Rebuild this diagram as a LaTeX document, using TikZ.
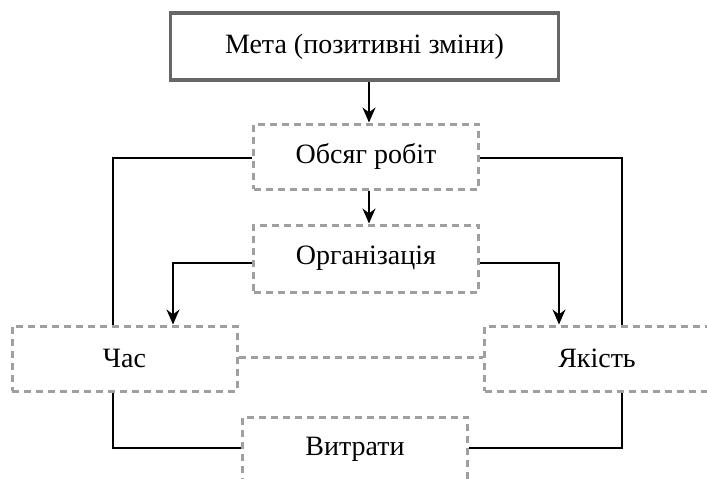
\documentclass[tikz,border=0pt]{standalone}
\usepackage{fontspec}
\setmainfont{Liberation Serif}
\usetikzlibrary{arrows.meta}
\begin{document}
\begin{tikzpicture}[x=1pt,y=-1pt,
  goalbox/.style={draw=gray!80!black, line width=3.5pt, minimum width=388pt, minimum height=67pt,
    inner sep=0pt, font=\fontsize{28}{32}\selectfont},
  factorbox/.style={draw=gray!75, line width=3pt, dash pattern=on 7pt off 5pt,
    minimum width=225pt, minimum height=65pt, inner sep=0pt, font=\fontsize{28}{32}\selectfont},
  link/.style={draw=black, line width=2pt},
  flow/.style={link, -{Stealth[length=15pt,width=13pt]}},
  tie/.style={draw=gray!75, line width=3pt, dash pattern=on 7pt off 5pt}]
\useasboundingbox (0,0) rectangle (707,479);

% boxes
\node[goalbox]   (goal)  at (364.5,46.5) {Мета (позитивні зміни)};
\node[factorbox] (scope) at (366,156.5)   {Обсяг робіт};
\node[factorbox, minimum height=67pt] (org) at (366,258.5) {Організація};
\node[factorbox] (time)  at (124.5,358.5) {Час};
\node[factorbox] (qual)  at (597,358.5)   {Якість};
\node[factorbox] (cost)  at (355,449.5)   {Витрати};

% corner points of the connectors
\coordinate (sl) at (113,158);
\coordinate (sr) at (622,158);
\coordinate (ol) at (173,263);
\coordinate (or) at (559,263);
\coordinate (cl) at (113,448);
\coordinate (cr) at (622,448);

% main flow
\draw[flow] (goal.south -| 369,0) -- (scope.north -| 369,0);
\draw[flow] (scope.south -| 369,0) -- (org.north -| 369,0);
\draw[flow] (org.west |- ol) -- (ol) -- (time.north -| ol);
\draw[flow] (org.east |- or) -- (or) -- (qual.north -| or);

% links between the factors
\draw[link] (scope.west |- sl) -- (sl) -- (time.north -| sl);
\draw[link] (scope.east |- sr) -- (sr) -- (qual.north -| sr);
\draw[link] (time.south -| cl) -- (cl) -- (cost.west |- cl);
\draw[link] (cost.east |- cr) -- (cr) -- (qual.south -| cr);
\draw[tie] (time.east |- 0,357) -- (qual.west |- 0,357);
\end{tikzpicture}
\end{document}
